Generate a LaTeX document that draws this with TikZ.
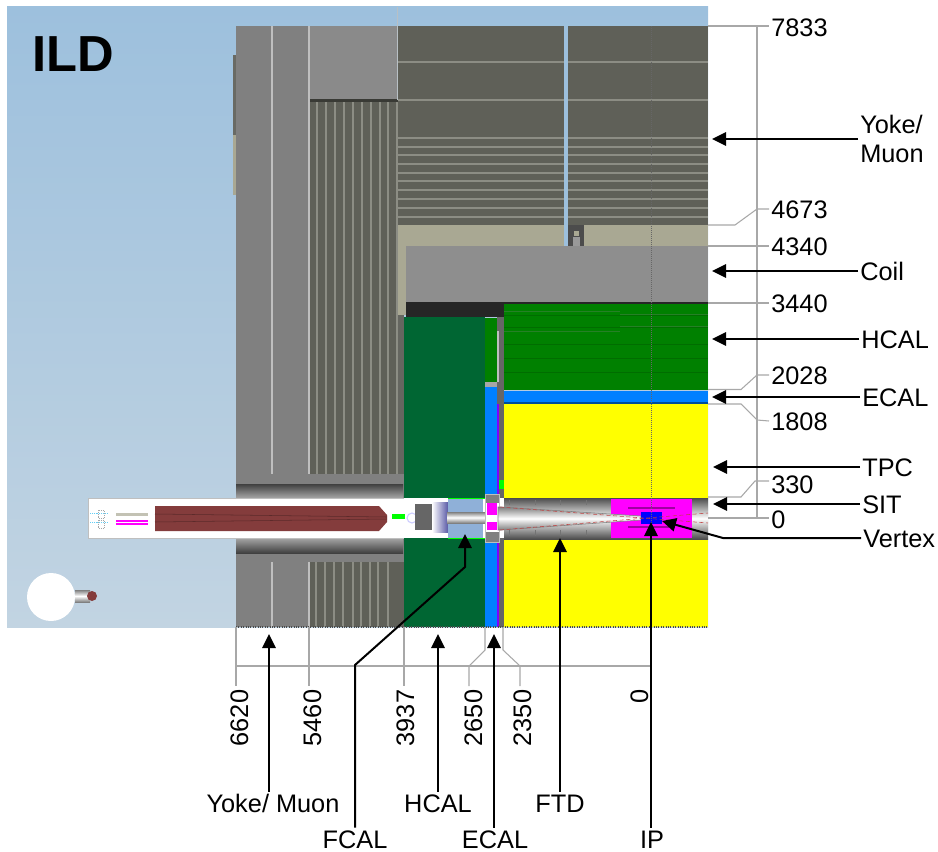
\documentclass[tikz,border=0pt]{standalone}
\usepackage{fontspec}
\setmainfont{Liberation Sans}
\usetikzlibrary{arrows.meta,positioning}
\definecolor{skytop}{HTML}{9DC0DD}
\definecolor{skybot}{HTML}{C2D4E2}
\definecolor{yokedark}{HTML}{5F6058}
\definecolor{yokegray}{HTML}{808080}
\definecolor{yokelight}{HTML}{8A8A8A}
\definecolor{ribline}{HTML}{8C8D84}
\definecolor{cryo}{HTML}{A9A893}
\definecolor{coilgray}{HTML}{8E8E8E}
\definecolor{hcalbar}{HTML}{008000}
\definecolor{hcalend}{HTML}{006633}
\definecolor{ecalblue}{HTML}{0080FF}
\definecolor{fcalblue}{HTML}{8FB0D8}
\definecolor{lumibrown}{HTML}{843C3C}
\definecolor{dimgray}{HTML}{A8A8A8}
\definecolor{tpcyellow}{HTML}{FFFF00}
\definecolor{vtxmagenta}{HTML}{FF00FF}
\definecolor{vtxdark}{HTML}{A000A0}
\definecolor{vtxblue}{HTML}{0000FF}
\definecolor{brightgreen}{HTML}{00FF00}
\definecolor{conered}{HTML}{C04040}
\definecolor{ecalviolet}{HTML}{8000FF}
\tikzset{
    %Define style for labels
    lab/.style={
           font=\fontsize{19}{22}\selectfont,
           inner sep=1.5pt,
           text height=13.6pt,
           text depth=0pt},
    tag/.style={
           lab,
           anchor=west},
    vertlab/.style={
           lab,
           rotate=90},
    % Define arrow style
    pil/.style={
           -{Triangle[length=10.5pt,width=10pt]},
           line width=1.5pt,
           black},
    dim/.style={
           draw=dimgray,
           line width=.8pt},
    tube/.style={
           top color=#1,
           bottom color=#1,
           middle color=white}
}
\begin{document}
\begin{tikzpicture}[x=.75pt,y=-.75pt]
\useasboundingbox (0,0) rectangle (938,852);
 %background
\shade[top color=skytop, bottom color=skybot] (7,7) rectangle (708,627);
 %yoke endcap
\fill[yokegray] (236,26) rectangle (404,627);
\fill[yokedark!70!gray] (233,55) rectangle (236,135);
\fill[cryo] (233,135) rectangle (236,195);
\fill[yokelight] (310,26) rectangle (397,99);
\fill[yokedark!60!black] (310,99) rectangle (398,102);
\fill[yokedark] (310,102) rectangle (398,474);
\foreach \x in {317,326,335,344,353,362,371,380,388,397}
    \fill[ribline] (\x-.75,102) rectangle (\x+.75,474);
\fill[yokedark] (310,562) rectangle (404,627);
\foreach \x in {316,325,334,343,353,361,370,378,388}
    \fill[ribline] (\x-.75,562) rectangle (\x+.75,627);
\fill[yokedark!80!gray] (398,102) rectangle (404,474);
\foreach \x in {272,309} {
    \fill[lightgray] (\x-1,26) rectangle (\x+1,474);
    \fill[lightgray] (\x-1,562) rectangle (\x+1,627);
}
\shade[top color=black!75, bottom color=gray!70] (236,484) rectangle (403,498);
\shade[top color=gray!70, bottom color=black!75] (236,538) rectangle (403,553);
 %yoke barrel
\fill[yokedark] (398,26) rectangle (708,225);
\foreach \y in {62,100,138,147,155,164,173,181,190,199,208,217}
    \fill[ribline] (398,\y-1) rectangle (708,\y+1);
\fill[lightgray!80!skytop] (396.5,7) rectangle (398,100);
 %cryostat and coil
\fill[cryo] (398,225) rectangle (708,246);
\fill[cryo] (398,246) rectangle (406,315);
\fill[skytop] (564,26) rectangle (568,246);
\fill[black!70] (568,225) rectangle (584,246);
\fill[cryo] (574,231) rectangle (579,236);
\fill[gray!80] (573,237) rectangle (580,246);
\fill[coilgray] (406,246) rectangle (708,302);
\fill[black!85] (406,302) rectangle (708,304);
\fill[black!85] (406,304) rectangle (504,317);
 %calorimeters
\fill[hcalend] (404,317) rectangle (485,627);
\fill[hcalbar] (485,318) rectangle (497,382);
\fill[black!60] (497,317) rectangle (504,627);
\fill[lightgray] (497,331) rectangle (499,382);
\fill[gray!70] (485,382) rectangle (497,387);
\fill[ecalblue] (485,387) rectangle (497,627);
\fill[ecalviolet] (497,404) rectangle (499,627);
\fill[hcalbar] (504,304) rectangle (708,390);
\foreach \y in {315,327,344,358,372}
    \fill[hcalbar!85!black] (504,\y) rectangle (708,\y+1);
\fill[hcalbar!70!gray] (504,311) rectangle (620,312);
\fill[hcalbar!70!gray] (620,314) rectangle (708,315);
\fill[hcalbar!70!gray] (504,331) rectangle (620,332);
\fill[hcalbar!70!gray] (620,326) rectangle (708,327);
\fill[ecalblue] (504,391) rectangle (708,403);
\fill[ecalblue!60!black] (504,402) rectangle (708,404);
\fill[tpcyellow] (504,404) rectangle (708,627);
\fill[brightgreen] (499,480) rectangle (504,489);
 %beam channel
\fill[white] (88,498) rectangle (708,538);
\draw[lightgray,line width=.7pt] (404,538) -- (88,538) -- (88,498) -- (404,498);
\fill[lumibrown] (155,506) -- (379,506) -- (387,515) -- (387,522) -- (379,531) -- (155,531) -- cycle;
\draw[lumibrown!70!black,thin] (155,514) -- (387,517);
\draw[lumibrown!70!black,thin] (155,522) -- (387,519);
\fill[vtxmagenta] (116,520) rectangle (148,522);
\fill[vtxmagenta] (116,523) rectangle (148,525);
\fill[cryo!70!white] (116,513) rectangle (148,516);
\draw[cyan!60,densely dotted] (90,513) -- (108,513) (90,522) -- (108,522);
\draw[gray!70,densely dotted] (98,510) rectangle (104,518) (98,520) rectangle (104,528);
\fill[brightgreen] (392,514) rectangle (405,519);
\draw[blue!20,thick] (412,518) circle (5);
\fill[black!60] (415,504) rectangle (432,530);
\shade[left color=white, right color=blue!30!gray] (432,502) rectangle (448,532);
\fill[fcalblue] (448,498) rectangle (483,538);
\shade[tube=gray] (447,512) rectangle (485,523);
\draw[brightgreen,thin] (448,538) -- (485,538) (448,498) -- (485,498);
 %ring in front of the TPC
\fill[gray] (485,494) rectangle (499,503);
\fill[vtxmagenta] (487,503) rectangle (497,515);
\fill[vtxmagenta] (487,522) rectangle (497,530);
\fill[gray] (485,532) rectangle (499,542);
\draw[lightgray] (485,494) rectangle (499,542);
 %inner tracking
\shade[tube=black!70] (504,498) rectangle (708,539);
\fill[vtxmagenta] (611,499) rectangle (692,538);
\foreach \x in {509,535,560,586}
    \draw[black!55] (\x,500) -- (\x,505) (\x,530) -- (\x,536);
\shade[tube=gray,draw=black!50,thin] (498,507) -- (502,507) -- (641,516) -- (641,520) -- (502,530) -- (498,530) -- cycle;
\fill[vtxdark] (628,507) rectangle (675,509);
\fill[vtxdark] (628,526) rectangle (675,528);
\fill[vtxblue] (641,512) rectangle (662,524);
\draw[conered,densely dashed,thin] (500,507) -- (708,523);
\draw[conered,densely dashed,thin] (500,530) -- (708,513);
\draw[densely dotted,black!60,line width=.5pt] (651.5,26) -- (651.5,627);
\draw[densely dotted,black!70,line width=.8pt] (236,627) -- (708,627);
 %person
\fill[white] (51,597) circle (24);
\shade[tube=gray] (75,590) rectangle (90,602);
\fill[lumibrown] (92,596) circle (5);
 %nodes
\node[font=\bfseries\fontsize{38}{40}\selectfont,inner sep=0pt,anchor=west](ild) at (32,54){ILD};
\node[tag](r7833) at (769,27){7833};
\node[tag](r4673) at (769,209){4673};
\node[tag](r4340) at (769,246){4340};
\node[tag](r3440) at (769,303){3440};
\node[tag](r2028) at (769,375){2028};
\node[tag](r1808) at (769,421){1808};
\node[tag](r330) at (769,484){330};
\node[tag](r0) at (769,519){0};
\node[anchor=west,align=left,inner sep=1.5pt,font=\fontsize{19}{21.75}\selectfont](yokeR) at (858,139){Yoke/\\Muon};
\node[tag](coilR) at (858,271){Coil};
\node[tag](hcalR) at (859,339){HCAL};
\node[tag](ecalR) at (860,397){ECAL};
\node[tag](tpcR) at (860,467){TPC};
\node[tag](sitR) at (860,504){SIT};
\node[tag](vertexR) at (861,538){Vertex};
\node[vertlab](b6620) at (239,718){6620};
\node[vertlab](b5460) at (312,718){5460};
\node[vertlab](b3937) at (405,718){3937};
\node[vertlab](b2650) at (473,718){2650};
\node[vertlab](b2350) at (522,718){2350};
\node[vertlab](b0) at (639,696){0};
\node[lab](yokeB) at (273,803){Yoke/ Muon};
\node[lab](hcalB) at (438,803){HCAL};
\node[lab](ftdB) at (560,803){FTD};
\node[lab](fcalB) at (355,839){FCAL};
\node[lab](ecalB) at (495,839){ECAL};
\node[lab](ipB) at (652,839){IP};
 %ends of the connectors
\coordinate (t7833) at (708,26);
\coordinate (t4673) at (708,225);
\coordinate (t4340) at (708,246);
\coordinate (t3440) at (708,303);
\coordinate (t2028) at (708,389.5);
\coordinate (t1808) at (708,404);
\coordinate (t330) at (708,497);
\coordinate (t0) at (708,518);
\coordinate (top) at (757,26);
\coordinate (bot) at (757,518);
\coordinate (f6620) at (236,627);
\coordinate (f5460) at (309,627);
\coordinate (f3937) at (404,627);
\coordinate (f2650) at (485,627);
\coordinate (f2350) at (503,627);
\coordinate (f0) at (651,627);
\coordinate (e6620) at (236,686);
\coordinate (e5460) at (309,686);
\coordinate (e3937) at (404,686);
\coordinate (e2650) at (469,686);
\coordinate (e2350) at (520,686);
\coordinate (baseL) at (236,666);
\coordinate (baseR) at (651,666);
\coordinate (aYoke) at (712,139);
\coordinate (aCoil) at (712,271);
\coordinate (aHcal) at (712,339);
\coordinate (aEcal) at (712,397);
\coordinate (aTpc) at (713,467);
\coordinate (aSit) at (713,504);
\coordinate (aVertex) at (662,521);
\coordinate (aYokeB) at (269,634);
\coordinate (aHcalB) at (438,634);
\coordinate (aFtd) at (560,538);
\coordinate (aFcal) at (465,534);
\coordinate (aEcalB) at (494,634);
\coordinate (aIp) at (651,522);
 %dimension lines
\draw[dim] (top) -- (bot);
\draw[dim] (t7833) -- (r7833.west |- t7833);
\draw[dim] (t4673) -- (735,225) -- (757,209) -- (r4673.west);
\draw[dim] (t4340) -- (r4340.west);
\draw[dim] (t3440) -- (r3440.west);
\draw[dim] (t2028) -- (741,389.5) -- (757,375) -- (r2028.west);
\draw[dim] (t1808) -- (741,404) -- (757,420) -- (r1808.west);
\draw[dim] (t330) -- (741,497) -- (755,481) -- (r330.west |- 0,481);
\draw[dim] (t0) -- (r0.west |- t0);
\draw[dim] (baseL) -- (baseR);
\draw[dim] (f6620) -- (e6620);
\draw[dim] (f5460) -- (e5460);
\draw[dim] (f3937) -- (e3937);
\draw[dim] (f0) -- (baseR);
\draw[dim] (f2650) -- (485,650) -- (469,666) -- (e2650);
\draw[dim] (f2350) -- (503,650) -- (520,666) -- (e2350);
 %arrows
\draw[pil] (yokeR.west) -- (aYoke);
\draw[pil] (coilR) -- (aCoil);
\draw[pil] (hcalR) -- (aHcal);
\draw[pil] (ecalR) -- (aEcal);
\draw[pil] (tpcR) -- (aTpc);
\draw[pil] (sitR) -- (aSit);
\draw[pil] (vertexR) -- (723,538) -- (aVertex);
\draw[pil] (yokeB.north -| aYokeB) -- (aYokeB);
\draw[pil] (hcalB) -- (aHcalB);
\draw[pil] (ftdB) -- (aFtd);
\draw[pil] (fcalB) -- (355,665) -- (465,567) -- (aFcal);
\draw[pil] (ecalB.north -| aEcalB) -- (aEcalB);
\draw[pil] (ipB.north -| aIp) -- (aIp);
\end{tikzpicture}
\end{document}
